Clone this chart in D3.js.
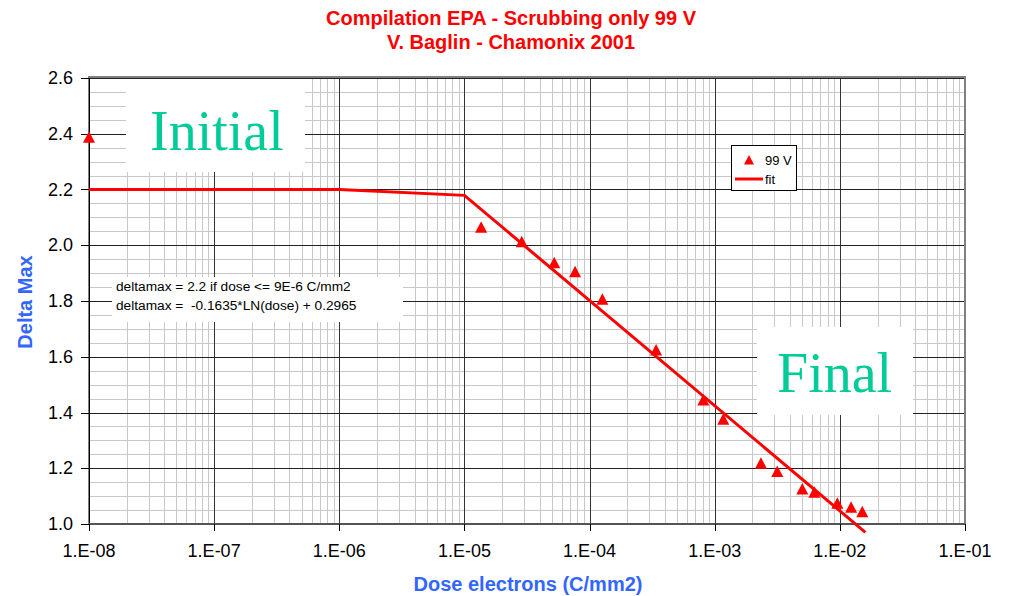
<!DOCTYPE html>
<html>
<head>
<meta charset="utf-8">
<style>
  body { margin: 0; background-color: #FFFFFF; }
  svg text { font-family: "Liberation Sans", Arial, sans-serif; }
</style>
</head>
<body>
<script src="https://d3js.org/d3.v7.min.js"></script>
<script>
// data
var doseMeasured = [1e-8, 1.36e-5, 2.87e-5, 5.22e-5, 7.66e-5, 1.265e-4, 3.40e-4, 8.11e-4,
                    1.17e-3, 2.34e-3, 3.16e-3, 5.01e-3, 6.25e-3, 9.55e-3, 1.23e-2, 1.51e-2];
var deltaMeasured = [2.387, 2.065, 2.013, 1.937, 1.905, 1.806, 1.624, 1.445,
                     1.376, 1.218, 1.188, 1.126, 1.114, 1.074, 1.060, 1.044];
var doseFit = [1e-8, 1e-6, 1e-5, 1.6e-2];
var deltaFit = [2.2, 2.2, 2.179, 0.97];
var xTicks = [1e-8, 1e-7, 1e-6, 1e-5, 1e-4, 1e-3, 1e-2, 1e-1];
var yTicks = [1.0, 1.2, 1.4, 1.6, 1.8, 2.0, 2.2, 2.4, 2.6];
var titleLines = ["Compilation EPA - Scrubbing only 99 V", "V. Baglin - Chamonix 2001"];
var noteLines = ["deltamax = 2.2 if dose <= 9E-6 C/mm2", "deltamax =  -0.1635*LN(dose) + 0.2965"];

var W = 1009, H = 596;
var pL = 89, pR = 965, pT = 78, pB = 524;

var svg = d3.select("body").append("svg")
    .attr("width", W)
    .attr("height", H);

var x = d3.scaleLog().domain([1e-8, 1e-1]).range([pL, pR]);
var y = d3.scaleLinear().domain([1.0, 2.6]).range([pB, pT]);

// minor grid
var minorX = [];
for (var e = -8; e < -1; e++) {
    for (var k = 2; k <= 9; k++) minorX.push(k * Math.pow(10, e));
}
var minorY = d3.range(0, 33).map(function (i) { return 1.0 + i * 0.05; });

var grid = svg.append("g");
grid.selectAll(".mx").data(minorX).enter().append("line")
    .attr("x1", function (d) { return Math.round(x(d)) + 0.5; })
    .attr("x2", function (d) { return Math.round(x(d)) + 0.5; })
    .attr("y1", pT).attr("y2", pB)
    .attr("stroke", "#c8c8c8").attr("stroke-width", 1);
grid.selectAll(".my").data(minorY).enter().append("line")
    .attr("x1", pL).attr("x2", pR)
    .attr("y1", function (d) { return Math.round(y(d)) + 0.5; })
    .attr("y2", function (d) { return Math.round(y(d)) + 0.5; })
    .attr("stroke", "#c8c8c8").attr("stroke-width", 1);
// major grid
grid.selectAll(".Mx").data(xTicks).enter().append("line")
    .attr("x1", function (d) { return Math.round(x(d)) + 0.5; })
    .attr("x2", function (d) { return Math.round(x(d)) + 0.5; })
    .attr("y1", pT).attr("y2", pB)
    .attr("stroke", "#333").attr("stroke-width", 1);
grid.selectAll(".My").data(yTicks).enter().append("line")
    .attr("x1", pL).attr("x2", pR)
    .attr("y1", function (d) { return Math.round(y(d)) + 0.5; })
    .attr("y2", function (d) { return Math.round(y(d)) + 0.5; })
    .attr("stroke", "#222").attr("stroke-width", 1);

// plot border
svg.append("rect")
    .attr("x", pL).attr("y", pT - 1)
    .attr("width", pR - pL).attr("height", pB - pT + 1)
    .attr("fill", "none").attr("stroke", "#808080").attr("stroke-width", 2);

// text boxes
function bigLabel(txt, bx, by, bw, bh, tx, ty) {
    svg.append("rect").attr("x", bx).attr("y", by).attr("width", bw).attr("height", bh)
        .attr("fill", "#FFFFFF");
    svg.append("text").attr("x", tx).attr("y", ty)
        .style("font-family", "'Liberation Serif', 'Times New Roman', serif")
        .style("font-size", "56px")
        .style("fill", "#00CC99")
        .text(txt);
}
bigLabel("Initial", 126, 79, 179, 93, 150, 150);
bigLabel("Final", 757, 327, 156, 88, 777, 392);

svg.append("rect").attr("x", 112).attr("y", 277).attr("width", 291).attr("height", 45)
    .attr("fill", "#FFFFFF");
svg.selectAll(".note").data(noteLines).enter().append("text")
    .attr("x", 116)
    .attr("y", function (d, i) { return 291 + i * 19; })
    .style("font-size", "13.7px")
    .style("fill", "#000")
    .style("white-space", "pre")
    .text(function (d) { return d; });

// y axis
svg.append("line").attr("x1", pL + 0.5).attr("x2", pL + 0.5)
    .attr("y1", pT).attr("y2", pB + 6)
    .attr("stroke", "#000").attr("stroke-width", 1);
svg.selectAll(".yt").data(yTicks).enter().append("line")
    .attr("x1", pL - 8).attr("x2", pL)
    .attr("y1", function (d) { return Math.round(y(d)) + 0.5; })
    .attr("y2", function (d) { return Math.round(y(d)) + 0.5; })
    .attr("stroke", "#000");
svg.selectAll(".yl").data(yTicks).enter().append("text")
    .attr("x", 73)
    .attr("y", function (d) { return y(d) + 6; })
    .attr("text-anchor", "end")
    .style("font-size", "18px")
    .text(function (d) { return d.toFixed(1); });

// x axis
svg.append("line").attr("x1", pL).attr("x2", pR)
    .attr("y1", pB).attr("y2", pB)
    .attr("stroke", "#555").attr("stroke-width", 2);
svg.selectAll(".xt").data(xTicks).enter().append("line")
    .attr("x1", function (d) { return Math.round(x(d)) + 0.5; })
    .attr("x2", function (d) { return Math.round(x(d)) + 0.5; })
    .attr("y1", pB).attr("y2", pB + 7)
    .attr("stroke", "#000");
function fmtDose(v) {
    var ex = Math.round(Math.log10(v));
    return "1.E" + (ex < 0 ? "-" : "+") + (Math.abs(ex) < 10 ? "0" : "") + Math.abs(ex);
}
svg.selectAll(".xl").data(xTicks).enter().append("text")
    .attr("x", function (d) { return x(d); })
    .attr("y", 557)
    .attr("text-anchor", "middle")
    .style("font-size", "18px")
    .text(fmtDose);

// titles
svg.selectAll(".title").data(titleLines).enter().append("text")
    .attr("x", 511)
    .attr("y", function (d, i) { return 25 + i * 24; })
    .attr("text-anchor", "middle")
    .style("font-size", "20px")
    .style("font-weight", "bold")
    .style("fill", "#FF0000")
    .text(function (d) { return d; });

svg.append("text")
    .attr("x", 528).attr("y", 591)
    .attr("text-anchor", "middle")
    .style("font-size", "20px").style("font-weight", "bold")
    .style("fill", "#3366FF")
    .text("Dose electrons (C/mm2)");
svg.append("text")
    .attr("transform", "translate(32,302) rotate(-90)")
    .attr("text-anchor", "middle")
    .style("font-size", "20px").style("font-weight", "bold")
    .style("fill", "#3366FF")
    .text("Delta Max");

// fit line
var fitData = doseFit.map(function (d, i) { return [d, deltaFit[i]]; });
svg.append("path")
    .datum(fitData)
    .attr("d", d3.line().x(function (d) { return x(d[0]); }).y(function (d) { return y(d[1]); }))
    .attr("fill", "none")
    .attr("stroke", "#FF0000")
    .attr("stroke-width", 3);

// measured points
var tri = "M0,-6L6,5.5L-6,5.5Z";
svg.selectAll(".pt").data(doseMeasured).enter().append("path")
    .attr("d", tri)
    .attr("transform", function (d, i) { return "translate(" + x(d) + "," + y(deltaMeasured[i]) + ")"; })
    .attr("fill", "#FF0000");

// legend
var lg = svg.append("g");
lg.append("rect").attr("x", 731.5).attr("y", 145.5).attr("width", 65).attr("height", 45)
    .attr("fill", "#FFFFFF").attr("stroke", "#000").attr("stroke-width", 1);
lg.append("path").attr("d", "M0,-5L5,4.5L-5,4.5Z")
    .attr("transform", "translate(749,160)").attr("fill", "#FF0000");
lg.append("text").attr("x", 765).attr("y", 165).style("font-size", "13px").text("99 V");
lg.append("line").attr("x1", 735).attr("x2", 763).attr("y1", 179).attr("y2", 179)
    .attr("stroke", "#FF0000").attr("stroke-width", 3);
lg.append("text").attr("x", 765).attr("y", 184).style("font-size", "13px").text("fit");
</script>
</body>
</html>
